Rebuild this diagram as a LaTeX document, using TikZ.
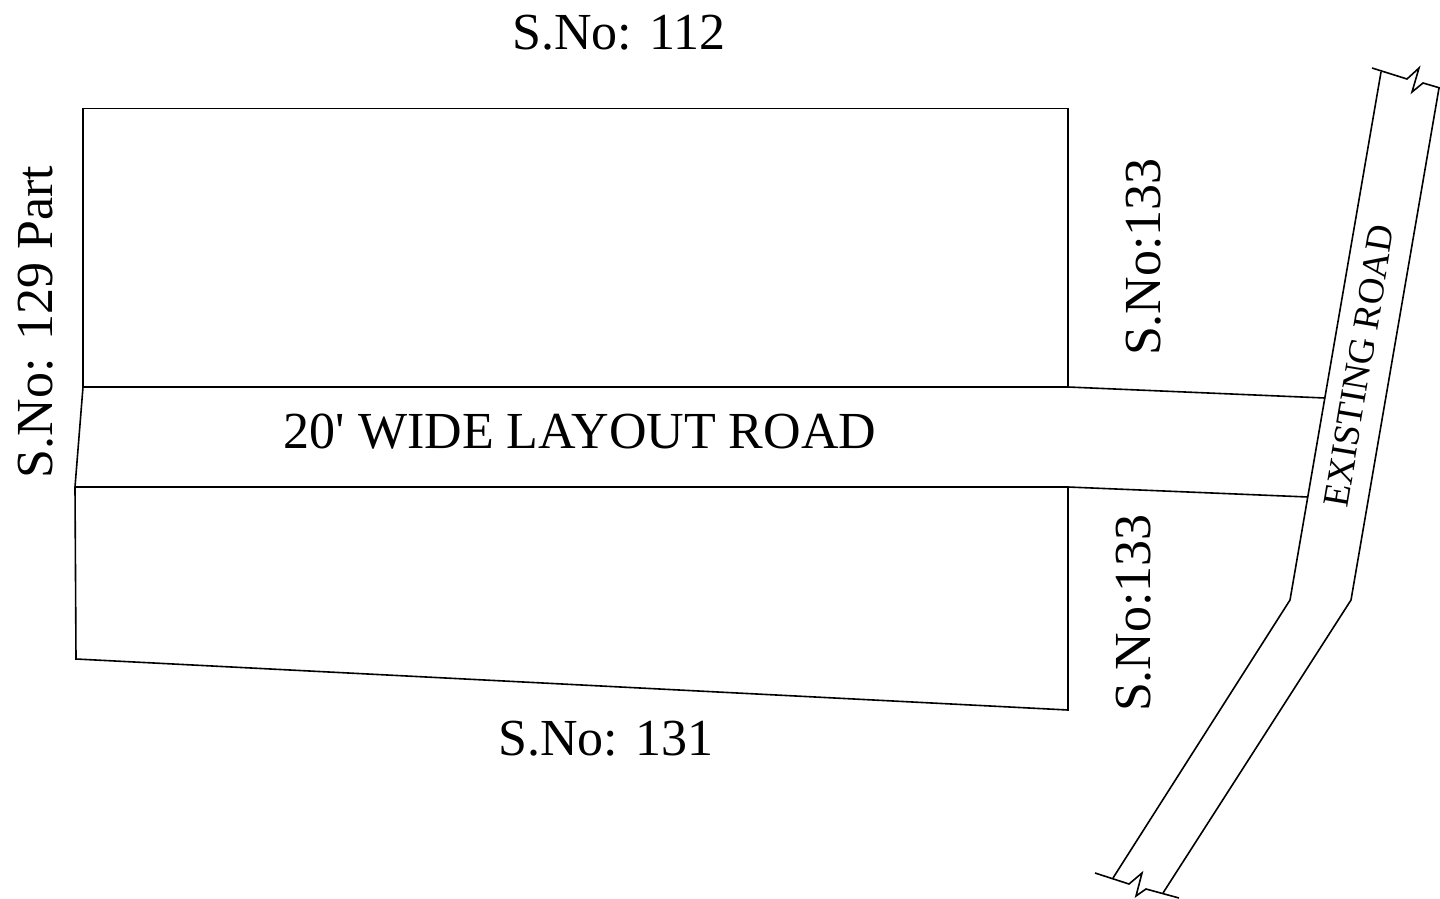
\documentclass[tikz,border=0pt]{standalone}
\usepackage{fontspec}
\newfontfamily\plainf{Liberation Serif}
\tikzset{lbl/.style={inner sep=0pt,font=\plainf\fontsize{52pt}{56pt}\selectfont},
lbs/.style={inner sep=0pt,font=\plainf\fontsize{37pt}{40pt}\selectfont},
ln/.style={line width=1.6pt,line join=miter}}
\begin{document}
\begin{tikzpicture}[x=1pt,y=-1pt]
\useasboundingbox (0,0) rectangle (1440,899);
\coordinate (A) at (83,108.5);
\coordinate (B) at (1068,108.5);
\coordinate (C) at (1068,387);
\coordinate (D) at (83,387);
\coordinate (E) at (75,487);
\coordinate (F) at (1068,487);
\coordinate (G) at (1068,710);
\coordinate (H) at (76,659);
\coordinate (R1) at (1325,398);
\coordinate (R2) at (1308,497);
\coordinate (P1) at (1381,72);
\coordinate (P2) at (1290,600);
\coordinate (P3) at (1113,878);
\coordinate (Q1) at (1439,88);
\coordinate (Q2) at (1351,600);
\coordinate (Q3) at (1163,893);
\draw[ln] (D)--(A)--(B)--(C);
\draw[ln] (D)--(C)--(R1);
\draw[ln] (D)--(E)--(F)--(R2);
\draw[ln] (F)--(G)--(H)--(E);
\draw[ln] (P1)--(P2)--(P3);
\draw[ln] (Q1)--(Q2)--(Q3);
\draw[ln] (1372,68)--(1407,79)--(1419,68)--(1412,92)--(1423,83)--(1440,88);
\draw[ln] (1095,873)--(1129,884)--(1142,873)--(1136,896)--(1146,889)--(1179,898);
\node[lbl] (t1) at (619,33) {S.No: 112};
\node[lbl] (t2) at (606,739) {S.No: 131};
\node[lbl] (t3) at (580,432) {20' WIDE LAYOUT ROAD};
\node[lbl,rotate=90] (t4) at (36,322) {S.No: 129 Part};
\node[lbl,rotate=90] (t5) at (1144,257) {S.No:133};
\node[lbl,rotate=90] (t6) at (1134,613) {S.No:133};
\node[lbs,rotate=80.5] (t7) at (1359,366) {EXISTING ROAD};
\end{tikzpicture}
\end{document}
